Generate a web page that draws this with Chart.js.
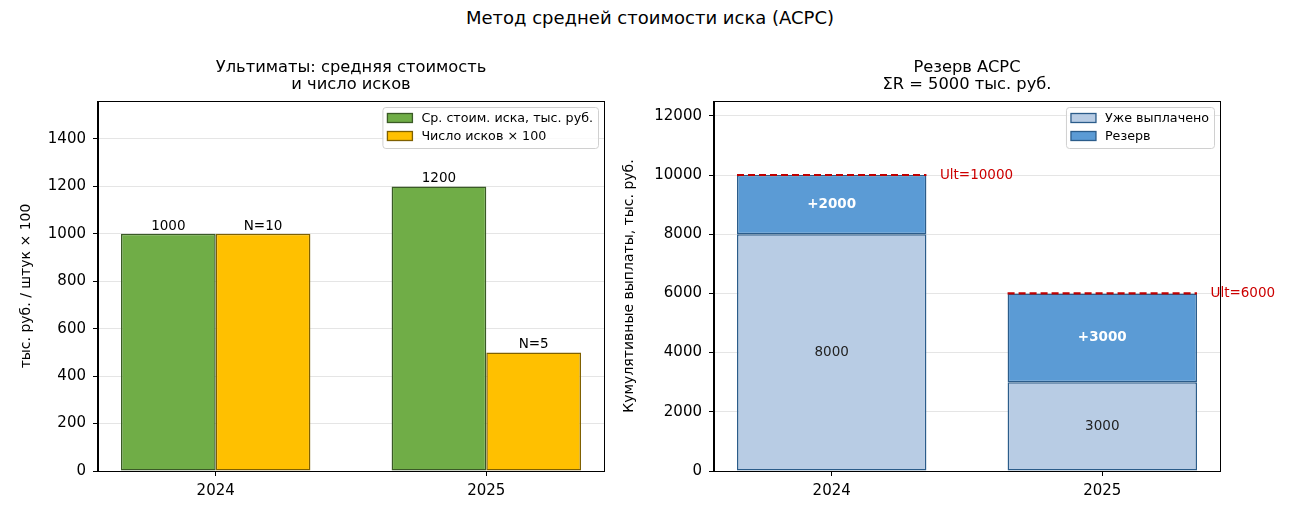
<!DOCTYPE html>
<html>
<head>
<meta charset="utf-8">
<script src="https://cdn.jsdelivr.net/npm/chart.js@4.4.1/dist/chart.umd.min.js"></script>
<style>
  body { margin: 0; width: 1300px; height: 520px; background: #fff; position: relative; overflow: hidden; font-family: "DejaVu Sans", sans-serif; }
  #sup { position: absolute; top: 7px; left: 0; width: 1300px; text-align: center; font-size: 18px; color: #000; }
  canvas { position: absolute; top: 0; }
</style>
</head>
<body>
<div id="sup">Метод средней стоимости иска (ACPC)</div>
<canvas id="left" width="650" height="520" style="left:0"></canvas>
<canvas id="right" width="700" height="520" style="left:600px"></canvas>
<script>
// data
const years = ['2024', '2025'];
const avgCost = [1000, 1200];      // тыс. руб.
const claimCount = [10, 5];        // штук
const paid = [8000, 3000];         // уже выплачено
const reserve = [2000, 3000];      // резерв

const leftTicks = [0, 200, 400, 600, 800, 1000, 1200, 1400];
const rightTicks = [0, 2000, 4000, 6000, 8000, 10000, 12000];

const ult = paid.map((p, i) => p + reserve[i]);
const totalReserve = reserve.reduce((a, b) => a + b, 0);
const xIdx = years.map((_, i) => i);

Chart.defaults.font.family = 'DejaVu Sans';
Chart.defaults.color = '#000';

function xScale() {
    return {
        type: 'linear', min: -0.435, max: 1.435, offset: false,
        afterBuildTicks: s => { s.ticks = xIdx.map(v => ({ value: v })); },
        ticks: { callback: v => years[v], font: { size: 15 }, padding: 6, maxRotation: 0 },
        grid: { drawOnChartArea: false, offset: false, tickColor: '#000', tickLength: 5 },
        border: { color: '#000', width: 1 },
        afterFit: s => { s.height = 49; }
    };
}

function yScale(max, tickVals, title, titlePad, width) {
    return {
        min: 0, max: max, z: 1,
        afterBuildTicks: s => { s.ticks = tickVals.map(v => ({ value: v })); },
        ticks: { callback: v => String(v), font: { size: 15 }, padding: 7 },
        grid: { color: 'rgba(0,0,0,0.1)', tickColor: '#000', tickLength: 5 },
        border: { color: '#000', width: 1 },
        title: { display: true, text: title, font: { size: 14 }, padding: { top: titlePad, bottom: 0 } },
        afterFit: s => { s.width = width; }
    };
}

function drawTitles(chart, lines) {
    const { ctx, chartArea } = chart;
    ctx.save();
    ctx.font = '16.3px "DejaVu Sans"';
    ctx.fillStyle = '#000';
    ctx.textAlign = 'center';
    ctx.textBaseline = 'middle';
    const cx = (chartArea.left + chartArea.right) / 2;
    ctx.fillText(lines[0], cx, chartArea.top - 33);
    ctx.fillText(lines[1], cx, chartArea.top - 16);
    ctx.restore();
}

function drawFrame(chart) {
    const { ctx, chartArea } = chart;
    ctx.save();
    ctx.strokeStyle = '#000';
    ctx.lineWidth = 1;
    ctx.strokeRect(Math.round(chartArea.left) - 0.5, Math.round(chartArea.top) + 0.5,
        Math.round(chartArea.right - chartArea.left) + 1, Math.round(chartArea.bottom - chartArea.top));
    ctx.restore();
}

function drawLegend(chart) {
    const { ctx, chartArea } = chart;
    const ds = chart.data.datasets;
    ctx.save();
    ctx.font = '12.7px "DejaVu Sans"';
    const textW = Math.max(...ds.map(d => ctx.measureText(d.label).width));
    const w = 5 + 25 + 9 + textW + 5;
    const h = 41;
    const x = chartArea.right - 6 - w;
    const y = chartArea.top + 6;
    ctx.beginPath();
    ctx.roundRect(x + 0.5, y + 0.5, w, h, 3);
    ctx.fillStyle = 'rgba(255,255,255,0.8)';
    ctx.fill();
    ctx.strokeStyle = '#d0d0d0';
    ctx.lineWidth = 1;
    ctx.stroke();
    ds.forEach((d, i) => {
        const cy = y + 11 + i * 18;
        ctx.fillStyle = d.backgroundColor;
        ctx.fillRect(x + 5, cy - 4.5, 25, 9);
        ctx.strokeStyle = d.borderColor;
        ctx.lineWidth = 1.3;
        ctx.strokeRect(x + 5, cy - 4.5, 25, 9);
        ctx.fillStyle = '#000';
        ctx.textAlign = 'left';
        ctx.textBaseline = 'middle';
        ctx.fillText(d.label, x + 39, cy + 0.5);
    });
    ctx.restore();
}

// Левый график: средняя стоимость и число исков
new Chart(document.getElementById('left'), {
    type: 'bar',
    data: {
        datasets: [
            {
                label: 'Ср. стоим. иска, тыс. руб.',
                data: avgCost.map((v, i) => ({ x: i, y: v })),
                backgroundColor: '#70AD47', borderColor: '#3a5a26', borderWidth: 1.5, borderSkipped: false
            },
            {
                label: 'Число исков × 100',
                data: claimCount.map((v, i) => ({ x: i, y: v * 100 })),
                backgroundColor: '#FFC000', borderColor: '#7f6000', borderWidth: 1.5, borderSkipped: false
            }
        ]
    },
    options: {
        responsive: false, animation: false,
        categoryPercentage: 0.7, barPercentage: 1,
        layout: { padding: { top: 101, right: 46, left: 0, bottom: 0 } },
        plugins: { legend: { display: false }, tooltip: { enabled: false } },
        scales: {
            x: xScale(),
            y: yScale(1560, leftTicks, 'тыс. руб. / штук × 100', 18, 98)
        }
    },
    plugins: [{
        id: 'leftDeco',
        afterDatasetsDraw(chart) {
            const ctx = chart.ctx;
            ctx.save();
            ctx.font = '13.5px "DejaVu Sans"';
            ctx.fillStyle = '#000';
            ctx.textAlign = 'center';
            ctx.textBaseline = 'bottom';
            chart.getDatasetMeta(0).data.forEach((el, i) => ctx.fillText(String(avgCost[i]), el.x, el.y - 1));
            chart.getDatasetMeta(1).data.forEach((el, i) => ctx.fillText('N=' + claimCount[i], el.x, el.y - 1));
            ctx.restore();
        },
        afterDraw(chart) {
            drawFrame(chart);
            drawTitles(chart, ['Ультиматы: средняя стоимость', 'и число исков']);
            drawLegend(chart);
        }
    }]
});

// Правый график: резерв ACPC
new Chart(document.getElementById('right'), {
    type: 'bar',
    data: {
        datasets: [
            {
                label: 'Уже выплачено',
                data: paid.map((v, i) => ({ x: i, y: v })),
                backgroundColor: '#B8CCE4', borderColor: '#2b5c8a', borderWidth: 1.5, borderSkipped: false
            },
            {
                label: 'Резерв',
                data: reserve.map((v, i) => ({ x: i, y: v })),
                backgroundColor: '#5B9BD5', borderColor: '#2b5c8a', borderWidth: 1.5, borderSkipped: false
            }
        ]
    },
    options: {
        responsive: false, animation: false,
        categoryPercentage: 0.7, barPercentage: 1,
        layout: { padding: { top: 101, right: 80, left: 0, bottom: 0 } },
        plugins: { legend: { display: false }, tooltip: { enabled: false } },
        scales: {
            x: Object.assign(xScale(), { stacked: true }),
            y: Object.assign(yScale(12500, rightTicks, 'Кумулятивные выплаты, тыс. руб.', 20.5, 114), { stacked: true })
        }
    },
    plugins: [{
        id: 'rightDeco',
        afterDatasetsDraw(chart) {
            const ctx = chart.ctx;
            const xs = chart.scales.x, ys = chart.scales.y;
            ctx.save();
            ctx.textAlign = 'center';
            ctx.textBaseline = 'middle';
            ctx.font = '13.5px "DejaVu Sans"';
            ctx.fillStyle = '#222';
            chart.getDatasetMeta(0).data.forEach((el, i) => ctx.fillText(String(paid[i]), el.x, (el.y + el.base) / 2));
            ctx.font = 'bold 13.5px "DejaVu Sans"';
            ctx.fillStyle = '#fff';
            chart.getDatasetMeta(1).data.forEach((el, i) => ctx.fillText('+' + reserve[i], el.x, (el.y + el.base) / 2));
            // линия ультимата
            chart.getDatasetMeta(1).data.forEach((el, i) => {
                const y = ys.getPixelForValue(ult[i]);
                ctx.strokeStyle = '#c00000';
                ctx.lineWidth = 2.2;
                ctx.setLineDash([7, 4]);
                ctx.beginPath();
                ctx.moveTo(el.x - el.width / 2, y);
                ctx.lineTo(el.x + el.width / 2, y);
                ctx.stroke();
                ctx.setLineDash([]);
                ctx.font = '13.5px "DejaVu Sans"';
                ctx.fillStyle = '#cc0000';
                ctx.textAlign = 'left';
                ctx.fillText('Ult=' + ult[i], xs.getPixelForValue(i + 0.4), y);
                ctx.textAlign = 'center';
            });
            ctx.restore();
        },
        afterDraw(chart) {
            drawFrame(chart);
            drawTitles(chart, ['Резерв ACPC', 'ΣR = ' + totalReserve + ' тыс. руб.']);
            drawLegend(chart);
        }
    }]
});
</script>
</body>
</html>
